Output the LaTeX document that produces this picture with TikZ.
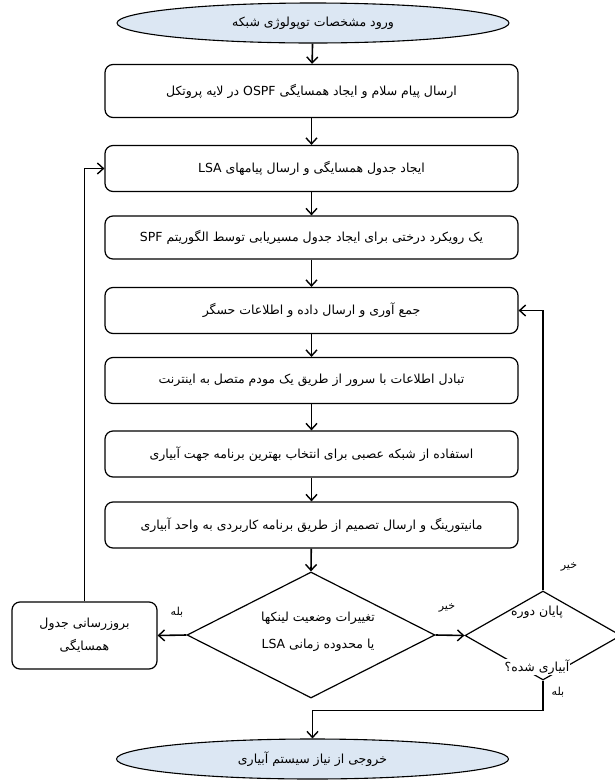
\documentclass[tikz,border=0pt]{standalone}
\usepackage{fontspec}
\usetikzlibrary{shapes.geometric,arrows.meta}
\TeXXeTstate=1
\newfontfamily\fa[Script=Arabic]{DejaVu Sans}
\newcommand{\rtl}[1]{\beginR #1\endR}
\newcommand{\ltr}[1]{\beginL #1\endL{}}
\definecolor{ellfill}{HTML}{DCE7F3}
\tikzset{
  stepbox/.style={draw, line width=1.2pt, rounded corners=8pt, minimum width=413pt, minimum height=46pt, inner sep=0pt, font=\fa\fontsize{12.5}{15}\selectfont},
  termnode/.style={draw, ellipse, fill=ellfill, line width=1.1pt, minimum width=392pt, minimum height=40pt, inner sep=0pt, font=\fa\fontsize{12.5}{15}\selectfont},
  decnode/.style={draw, diamond, line width=1.2pt, inner sep=0pt},
  txt/.style={inner sep=0pt, align=center, font=\fa\fontsize{12.5}{15}\selectfont},
  lbl/.style={inner sep=0pt, font=\fa\fontsize{11}{13}\selectfont},
  conn/.style={line width=1.6pt, -{Straight Barb[length=6pt,width=11pt,line width=1.4pt]}}
}
\begin{document}
\begin{tikzpicture}[x=1pt,y=-1pt]
\useasboundingbox (0,0) rectangle (614,780);
\node[termnode] (e0) at (313,23) {\rtl{ورود مشخصات توپولوژی شبکه}};
\node[stepbox, minimum height=53pt] (b1) at (311.5,91) {\rtl{ارسال پیام سلام و ایجاد همسایگی \ltr{OSPF} در لایه پروتکل}};
\node[stepbox] (b2) at (311.5,168.5) {\rtl{ایجاد جدول همسایگی و ارسال پیامهای \ltr{LSA}}};
\node[stepbox, minimum height=43pt] (b3) at (311.5,237.5) {\rtl{یک رویکرد درختی برای ایجاد جدول مسیریابی توسط الگوریتم \ltr{SPF}}};
\node[stepbox] (b4) at (311.5,310.5) {\rtl{جمع آوری و ارسال داده و اطلاعات حسگر}};
\node[stepbox] (b5) at (311.5,380.5) {\rtl{تبادل اطلاعات با سرور از طریق یک مودم متصل به اینترنت}};
\node[stepbox] (b6) at (311.5,454) {\rtl{استفاده از شبکه عصبی برای انتخاب بهترین برنامه جهت آبیاری}};
\node[stepbox] (b7) at (311.5,525) {\rtl{مانیتورینگ و ارسال تصمیم از طریق برنامه کاربردی به واحد آبیاری}};
\node[decnode, minimum width=248pt, minimum height=126pt] (d1) at (311,635) {};
\node[txt] (d1t) at (318,632) {\rtl{تغییرات وضعیت لینکها}\\[12pt]\rtl{یا محدوده زمانی \ltr{LSA}}};
\node[stepbox, minimum width=145pt, minimum height=67pt] (lb) at (84.5,635.5) {};
\node[txt] (lbt) at (84.5,635.5) {\rtl{بروزرسانی جدول}\\[8pt]\rtl{همسایگی}};
\node[decnode, minimum width=156pt, minimum height=89pt] (d2) at (543,635.5) {};
\node[txt] (d2a) at (537,612) {\rtl{پایان دوره}};
\node[txt, fill=white, inner sep=1pt] (d2b) at (537,667) {\rtl{آبیاری شده؟}};
\node[termnode] (e1) at (312.5,759) {\rtl{خروجی از نیاز سیستم آبیاری}};
\draw[conn] (e0) -- (b1);
\draw[conn] (b1) -- (b2);
\draw[conn] (b2) -- (b3);
\draw[conn] (b3) -- (b4);
\draw[conn] (b4) -- (b5);
\draw[conn] (b5) -- (b6);
\draw[conn] (b6) -- (b7);
\draw[conn] (b7) -- (d1.north);
\draw[conn] (d1.west) -- (lb.east);
\draw[conn] (lb.north) |- (b2.west);
\draw[conn] (d1.east) -- (d2.west);
\draw[conn] (d2.north) |- (b4.east);
\draw[conn] (d2.south) -- ++(0,30) -| (e1.north);
\node[lbl] (l1) at (177,612) {\rtl{بله}};
\node[lbl] (l2) at (447,608) {\rtl{خیر}};
\node[lbl] (l3) at (569,567) {\rtl{خیر}};
\node[lbl] (l4) at (558,692) {\rtl{بله}};
\end{tikzpicture}
\end{document}
